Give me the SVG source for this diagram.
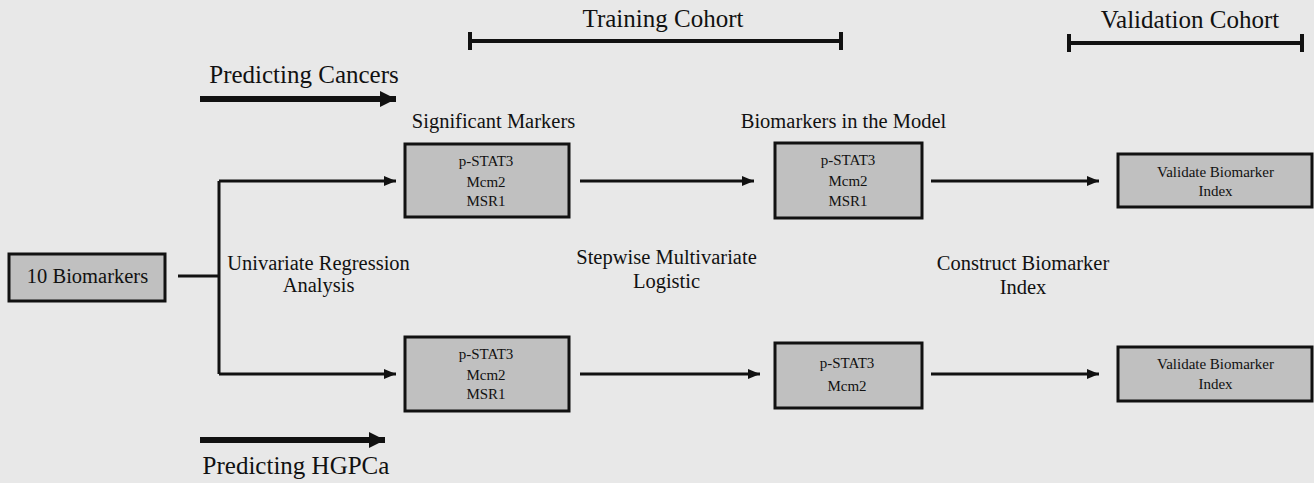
<svg xmlns="http://www.w3.org/2000/svg" width="1314" height="483" viewBox="0 0 1314 483" font-family="'Liberation Serif', 'DejaVu Serif', serif">
<style>
text{font-family:'Liberation Serif','DejaVu Serif',serif;fill:#111;text-anchor:middle}
.box{fill:#c0c0c0;stroke:#111;stroke-width:3}
.ln{stroke:#111;stroke-width:3;fill:none}
.thick{stroke:#111;stroke-width:6;fill:none}
.lbl{font-size:20.5px}
.in{font-size:15px}
.sm{font-size:15px}
.hd{font-size:25px}
</style>
<defs>
<marker id="ah" markerUnits="userSpaceOnUse" markerWidth="12" markerHeight="10" refX="12" refY="5" orient="auto"><path d="M0,0 L12,5 L0,10 Z" fill="#111"/></marker>
<marker id="bh" markerUnits="userSpaceOnUse" markerWidth="16" markerHeight="16" refX="16" refY="8" orient="auto"><path d="M0,0 L16,8 L0,16 Z" fill="#111"/></marker>
</defs>
<rect width="1314" height="483" fill="#e8e8e8"/>

<g id="headers">
<text class="hd" x="663" y="27">Training Cohort</text>
<path class="ln" d="M470,41 H841 M470,32 V50 M841,32 V50" style="stroke-width:4"/>
<text class="hd" x="1190" y="28">Validation Cohort</text>
<path class="ln" d="M1069,43 H1302 M1069,34 V52 M1302,34 V52" style="stroke-width:4"/>
<text class="hd" x="304" y="83">Predicting Cancers</text>
<text class="hd" x="296" y="474">Predicting HGPCa</text>
</g>

<g id="connectors">
<line class="thick" x1="200" y1="99" x2="396" y2="99" marker-end="url(#bh)"/>
<line class="thick" x1="200" y1="440" x2="385" y2="440" marker-end="url(#bh)"/>
<path class="ln" d="M178,276 H219 M219,181 V374"/>
<path class="ln" d="M219,181 H396" marker-end="url(#ah)"/>
<path class="ln" d="M219,374 H396" marker-end="url(#ah)"/>
<line class="ln" x1="580" y1="181" x2="754" y2="181" marker-end="url(#ah)"/>
<line class="ln" x1="580" y1="374" x2="760" y2="374" marker-end="url(#ah)"/>
<line class="ln" x1="931" y1="181" x2="1099" y2="181" marker-end="url(#ah)"/>
<line class="ln" x1="931" y1="374" x2="1099" y2="374" marker-end="url(#ah)"/>
</g>

<g id="n10">
<rect class="box" x="9" y="254" width="156" height="47"/>
<text class="lbl" x="87.5" y="283">10 Biomarkers</text>
</g>

<g id="labels">
<text class="lbl" x="493.5" y="128">Significant Markers</text>
<text class="lbl" x="843.5" y="128">Biomarkers in the Model</text>
<text class="lbl" x="318.5" y="270">Univariate Regression</text>
<text class="lbl" x="318.5" y="292">Analysis</text>
<text class="lbl" x="666.5" y="264">Stepwise Multivariate</text>
<text class="lbl" x="666.5" y="288">Logistic</text>
<text class="lbl" x="1023" y="270">Construct Biomarker</text>
<text class="lbl" x="1023" y="294">Index</text>
</g>

<g id="sigTop">
<rect class="box" x="405" y="144" width="164" height="73"/>
<text class="in" x="486" y="166">p-STAT3</text>
<text class="in" x="486" y="187">Mcm2</text>
<text class="in" x="486" y="206">MSR1</text>
</g>
<g id="sigBot">
<rect class="box" x="405" y="337" width="164" height="74"/>
<text class="in" x="486" y="359">p-STAT3</text>
<text class="in" x="486" y="380">Mcm2</text>
<text class="in" x="486" y="399">MSR1</text>
</g>
<g id="modTop">
<rect class="box" x="775" y="143" width="147" height="75"/>
<text class="in" x="848" y="165">p-STAT3</text>
<text class="in" x="848" y="186">Mcm2</text>
<text class="in" x="848" y="206">MSR1</text>
</g>
<g id="modBot">
<rect class="box" x="775" y="343" width="147" height="65"/>
<text class="in" x="847" y="368">p-STAT3</text>
<text class="in" x="847" y="391">Mcm2</text>
</g>
<g id="valTop">
<rect class="box" x="1118" y="154" width="194" height="53"/>
<text class="sm" x="1215.5" y="177">Validate Biomarker</text>
<text class="sm" x="1215.5" y="196">Index</text>
</g>
<g id="valBot">
<rect class="box" x="1118" y="347" width="194" height="54"/>
<text class="sm" x="1215.5" y="369">Validate Biomarker</text>
<text class="sm" x="1215.5" y="389">Index</text>
</g>
</svg>
